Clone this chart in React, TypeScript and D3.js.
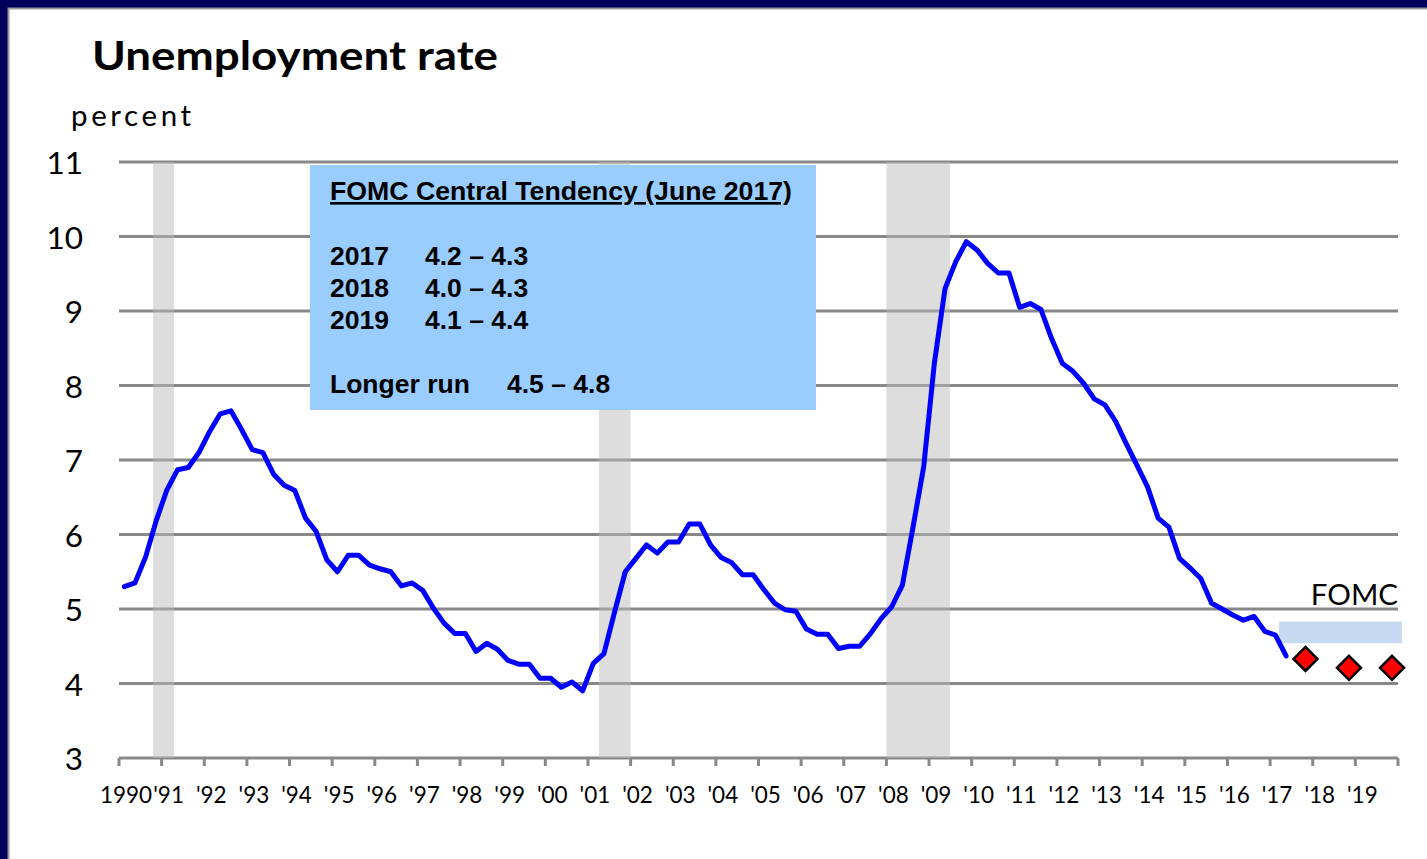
import React from "react";
import * as d3 from "d3";

const startYear = 1990;
// Quarterly unemployment rate, 1990 Q1 – 2017 Q2 (percent)
const unemployment = [
  5.30, 5.35, 5.70, 6.19,
  6.60, 6.87, 6.90, 7.10,
  7.38, 7.62, 7.66, 7.41,
  7.14, 7.10, 6.81, 6.66,
  6.59, 6.22, 6.04, 5.66,
  5.50, 5.72, 5.72, 5.59,
  5.54, 5.50, 5.31, 5.35,
  5.25, 5.01, 4.81, 4.67,
  4.67, 4.43, 4.54, 4.46,
  4.31, 4.26, 4.26, 4.07,
  4.07, 3.95, 4.02, 3.90,
  4.27, 4.40, 4.96, 5.50,
  5.68, 5.86, 5.75, 5.90,
  5.90, 6.14, 6.14, 5.86,
  5.69, 5.62, 5.46, 5.46,
  5.26, 5.08, 4.99, 4.97,
  4.73, 4.66, 4.66, 4.47,
  4.50, 4.50, 4.67, 4.87,
  5.03, 5.32, 6.10, 6.91,
  8.30, 9.30, 9.66, 9.93,
  9.82, 9.64, 9.51, 9.51,
  9.05, 9.10, 9.02, 8.63,
  8.30, 8.19, 8.03, 7.82,
  7.74, 7.52, 7.22, 6.93,
  6.64, 6.22, 6.10, 5.68,
  5.55, 5.41, 5.08, 5.00,
  4.92, 4.85, 4.90, 4.70,
  4.65, 4.37,
];

const recessions: [number, number][] = [
  [1990.8, 1991.29],
  [2001.26, 2002.0],
  [2008.0, 2009.49],
];

const projectionYears = [2017.83, 2018.85, 2019.86];
const projectionValues = [4.33, 4.21, 4.21];

const longerRunBand = { x0: 2017.21, x1: 2020.09, low: 4.54, high: 4.83 };

const yTicks = [3, 4, 5, 6, 7, 8, 9, 10, 11];
const xTickYears = d3.range(1990, 2021);
const xTickLabels = [
  "1990", "'91", "'92", "'93", "'94", "'95", "'96", "'97", "'98", "'99",
  "'00", "'01", "'02", "'03", "'04", "'05", "'06", "'07", "'08", "'09",
  "'10", "'11", "'12", "'13", "'14", "'15", "'16", "'17", "'18", "'19",
];

const boxTitle = "FOMC Central Tendency (June 2017)";
const boxYears = ["2017", "2018", "2019"];
const boxRanges = ["4.2 – 4.3", "4.0 – 4.3", "4.1 – 4.4"];
const longerRunLabel = "Longer run";
const longerRunRange = "4.5 – 4.8";

export default function App() {
  const W = 1427;
  const H = 859;
  const x = d3.scaleLinear().domain([1990, 2020]).range([119, 1398]);
  const y = d3.scaleLinear().domain([3, 11]).range([758, 162]);

  const points: [number, number][] = unemployment.map((v, i) => [
    startYear + (i + 0.5) / 4,
    v,
  ]);
  const line = d3
    .line<[number, number]>()
    .x((d) => x(d[0]))
    .y((d) => y(d[1]));

  const calibri = "Lato, 'Open Sans', sans-serif";
  const arial = "'Liberation Sans', Arial, sans-serif";
  const boxFs = 26.5;

  return (
    <svg
      width={W}
      height={H}
      style={{ position: "absolute", left: 0, top: 0 }}
    >
      <rect x={0} y={0} width={W} height={H} fill="#00005c" />
      <rect x={8.5} y={8.5} width={W} height={H} fill="#ffffff" stroke="#9a9a9a" strokeWidth={2} />

      <text
        x={92}
        y={70}
        fontFamily={calibri}
        fontWeight={700}
        fontSize={40}
        textLength={406}
        lengthAdjust="spacingAndGlyphs"
        fill="#000"
      >
        Unemployment rate
      </text>
      <text x={71} y={126} fontFamily={calibri} fontSize={29.5} letterSpacing={3.6} fill="#000">
        percent
      </text>

      {/* gridlines */}
      {yTicks.map((t) => (
        <line
          key={t}
          x1={x(1990)}
          x2={x(2020)}
          y1={y(t)}
          y2={y(t)}
          stroke="#888888"
          strokeWidth={3}
        />
      ))}

      {/* recession shading */}
      {recessions.map(([a, b], i) => (
        <rect
          key={i}
          x={x(a)}
          y={y(11)}
          width={x(b) - x(a)}
          height={y(3) - y(11)}
          fill="#b9b9b9"
          fillOpacity={0.49}
        />
      ))}

      {/* x axis ticks */}
      {xTickYears.map((yr) => (
        <line
          key={yr}
          x1={x(yr)}
          x2={x(yr)}
          y1={y(3)}
          y2={y(3) + 8}
          stroke="#888888"
          strokeWidth={3}
        />
      ))}
      {xTickLabels.map((lab, i) => (
        <text
          key={lab}
          x={x(1990 + i) + 7}
          y={803}
          textAnchor="middle"
          fontFamily={calibri}
          fontSize={22.5}
          fill="#000"
        >
          {lab}
        </text>
      ))}

      {/* y labels */}
      {yTicks.map((t) => (
        <text
          key={t}
          x={83}
          y={y(t) + 12}
          textAnchor="end"
          fontFamily={calibri}
          fontSize={31.5}
          fill="#000"
        >
          {t}
        </text>
      ))}

      {/* info box */}
      <rect x={310} y={165} width={506} height={245} fill="#99ccff" />
      <text
        x={330}
        y={200}
        fontFamily={arial}
        fontWeight={700}
        fontSize={boxFs}
        textLength={462}
        lengthAdjust="spacingAndGlyphs"
        fill="#000"
        textDecoration="underline"
      >
        {boxTitle}
      </text>
      {boxYears.map((yr, i) => (
        <g key={yr}>
          <text x={330} y={265 + i * 32} fontFamily={arial} fontWeight={700} fontSize={boxFs} fill="#000">
            {yr}
          </text>
          <text x={425} y={265 + i * 32} fontFamily={arial} fontWeight={700} fontSize={boxFs} fill="#000">
            {boxRanges[i]}
          </text>
        </g>
      ))}
      <text x={330} y={393} fontFamily={arial} fontWeight={700} fontSize={boxFs} fill="#000">
        {longerRunLabel}
      </text>
      <text x={507} y={393} fontFamily={arial} fontWeight={700} fontSize={boxFs} fill="#000">
        {longerRunRange}
      </text>

      {/* longer run band */}
      <rect
        x={x(longerRunBand.x0)}
        y={y(longerRunBand.high)}
        width={x(longerRunBand.x1) - x(longerRunBand.x0)}
        height={y(longerRunBand.low) - y(longerRunBand.high)}
        fill="#c5d9f1"
      />
      <text x={1398} y={605} textAnchor="end" fontFamily={calibri} fontSize={29.5} fill="#000">
        FOMC
      </text>

      {/* unemployment line */}
      <path
        d={line(points) || ""}
        fill="none"
        stroke="#0000ff"
        strokeWidth={5}
        strokeLinejoin="round"
        strokeLinecap="round"
      />

      {/* projections */}
      {projectionYears.map((yr, i) => {
        const cx = x(yr);
        const cy = y(projectionValues[i]);
        const r = 12;
        return (
          <path
            key={yr}
            d={`M${cx},${cy - r}L${cx + r},${cy}L${cx},${cy + r}L${cx - r},${cy}Z`}
            fill="#ff0000"
            stroke="#000"
            strokeWidth={2.5}
          />
        );
      })}
    </svg>
  );
}
